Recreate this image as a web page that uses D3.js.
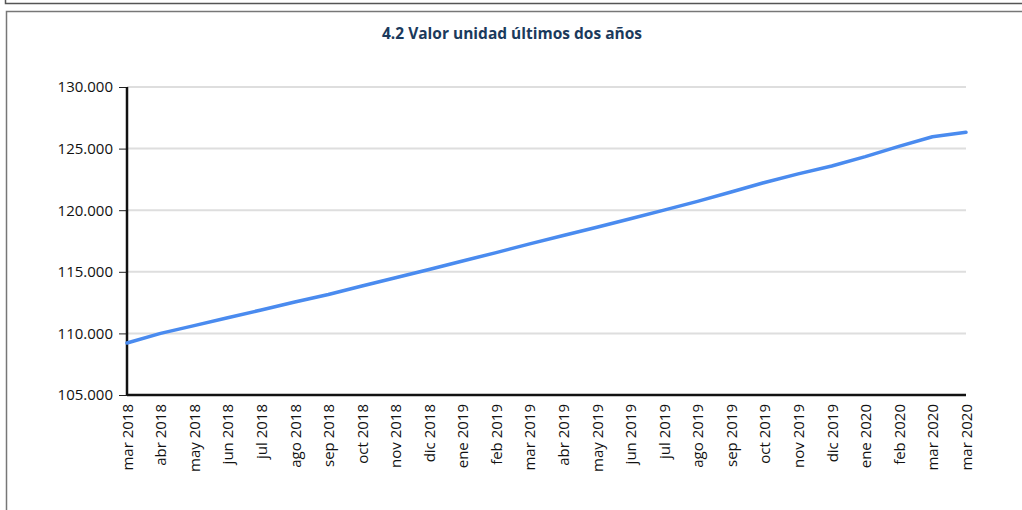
<!DOCTYPE html>
<html>
<head>
<meta charset="utf-8">
<script src="https://cdn.jsdelivr.net/npm/d3@7"></script>
<style>
  body { margin: 0; background: #fff; }
  svg { display: block; font-family: "Open Sans", sans-serif; }
</style>
</head>
<body>
<div id="chart"></div>
<script>
// categories as shown on the x axis (the last month appears twice)
const months = [
  "mar 2018", "abr 2018", "may 2018", "jun 2018", "jul 2018", "ago 2018",
  "sep 2018", "oct 2018", "nov 2018", "dic 2018", "ene 2019", "feb 2019",
  "mar 2019", "abr 2019", "may 2019", "jun 2019", "jul 2019", "ago 2019",
  "sep 2019", "oct 2019", "nov 2019", "dic 2019", "ene 2020", "feb 2020",
  "mar 2020", "mar 2020"
];

const unitValue = [
  109220, 110000, 110630, 111270, 111900, 112550,
  113160, 113850, 114520, 115190, 115880, 116560,
  117270, 117950, 118620, 119310, 120010, 120720,
  121480, 122250, 122950, 123590, 124350, 125180,
  125960, 126320
];

const yTicks = [105000, 110000, 115000, 120000, 125000, 130000];

const title = "4.2 Valor unidad últimos dos años";

const width = 1022, height = 510;
const margin = { top: 87, right: 56, bottom: 115, left: 127 };
const innerWidth = width - margin.left - margin.right,
      innerHeight = height - margin.top - margin.bottom;

const locale = d3.formatLocale({ decimal: ",", thousands: ".", grouping: [3], currency: ["", ""] });
const fmt = locale.format(",.0f");

const svg = d3.select("#chart").append("svg")
    .attr("width", width)
    .attr("height", height);

// frames of the report page
svg.append("path")
    .attr("d", "M5.5,0 V3.5 H1022")
    .attr("fill", "none")
    .attr("stroke", "#555")
    .attr("stroke-width", 1.5);
svg.append("path")
    .attr("d", "M6.5,510 V11.5 H1022")
    .attr("fill", "none")
    .attr("stroke", "#777")
    .attr("stroke-width", 1.5);

svg.append("text")
    .attr("x", 512)
    .attr("y", 39)
    .attr("text-anchor", "middle")
    .attr("fill", "#1b3a5c")
    .style("font-size", "15.5px")
    .style("font-weight", "bold")
    .text(title);

const g = svg.append("g")
    .attr("transform", "translate(" + margin.left + "," + margin.top + ")");

// Scales
const xScale = d3.scalePoint()
    .domain(d3.range(months.length))
    .range([0, innerWidth]);

const yScale = d3.scaleLinear()
    .domain([105000, 130000])
    .range([innerHeight, 0]);

// grid
g.append("g")
    .selectAll("line")
    .data(yTicks.slice(1))
    .join("line")
    .attr("x1", 0)
    .attr("x2", innerWidth)
    .attr("y1", d => yScale(d))
    .attr("y2", d => yScale(d))
    .attr("stroke", "#dedede")
    .attr("stroke-width", 2);

// y axis
const yAxis = g.append("g")
    .call(d3.axisLeft(yScale).tickValues(yTicks).tickFormat(fmt).tickSize(8).tickPadding(6));
yAxis.select(".domain").remove();
yAxis.selectAll(".tick line").attr("stroke", "#222");
yAxis.selectAll("text")
    .attr("fill", "#111")
    .style("font-size", "15px")
    .style("font-family", "Open Sans, sans-serif");

// x axis
const xAxis = g.append("g")
    .attr("transform", "translate(0," + innerHeight + ")")
    .call(d3.axisBottom(xScale).tickSize(0).tickFormat(i => months[i]));
xAxis.select(".domain").remove();
xAxis.selectAll("text")
    .attr("transform", "rotate(-90)")
    .attr("text-anchor", "end")
    .attr("x", -9)
    .attr("y", 0)
    .attr("dy", "0.35em")
    .attr("fill", "#111")
    .style("font-size", "15px")
    .style("font-family", "Open Sans, sans-serif");

// axis lines
g.append("line")
    .attr("x1", 0).attr("x2", 0)
    .attr("y1", 0).attr("y2", innerHeight)
    .attr("stroke", "#111").attr("stroke-width", 2.5);
g.append("line")
    .attr("x1", 0).attr("x2", innerWidth)
    .attr("y1", innerHeight).attr("y2", innerHeight)
    .attr("stroke", "#111").attr("stroke-width", 2.5);

const line = d3.line()
    .x((d, i) => xScale(i))
    .y(d => yScale(d));

g.append("path")
    .attr("fill", "none")
    .attr("stroke", "#4a8bef")
    .attr("stroke-width", 3.5)
    .attr("stroke-linejoin", "round")
    .attr("stroke-linecap", "round")
    .attr("d", line(unitValue));
</script>
</body>
</html>
